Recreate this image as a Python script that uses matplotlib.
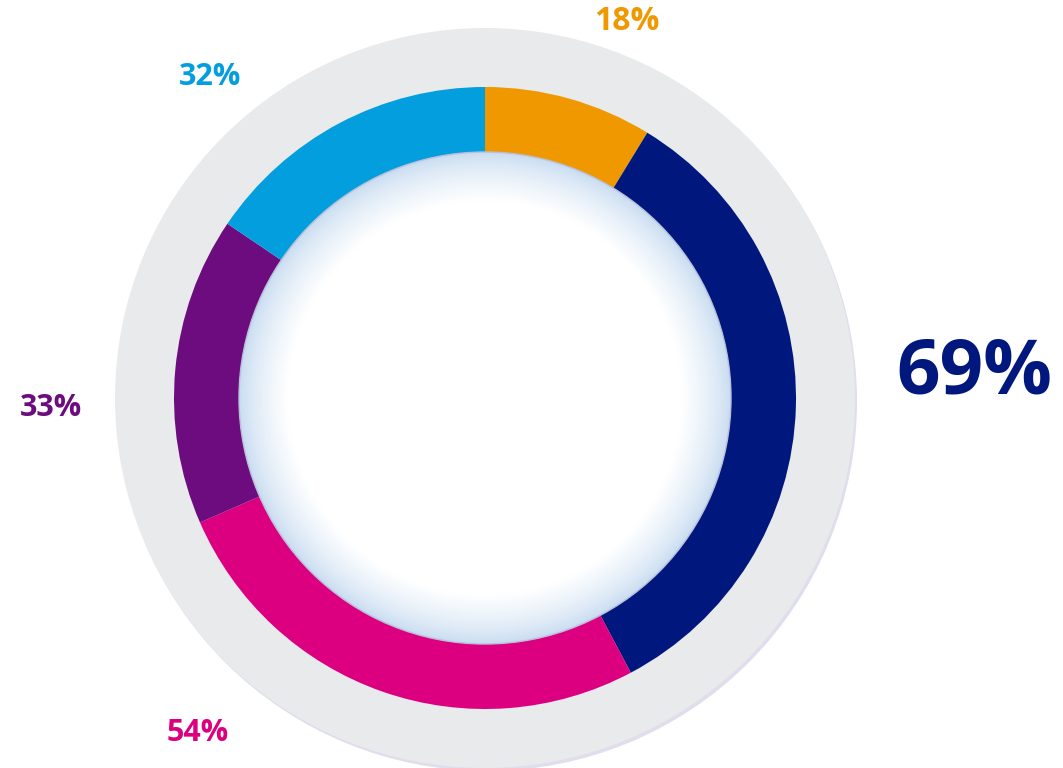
import matplotlib
matplotlib.use("Agg")
import matplotlib.pyplot as plt
from matplotlib.patches import Circle

# data (clockwise from 12 o'clock)
categories = ["A", "B", "C", "D", "E"]
values = [18, 69, 54, 33, 32]
labels = ["18%", "69%", "54%", "33%", "32%"]
colors = ["#F09800", "#00187E", "#DC0080", "#6C0C7E", "#029EDE"]

W, H = 1063, 768
fig = plt.figure(figsize=(W / 100, H / 100), dpi=100)
ax = fig.add_axes([0, 0, 1, 1])

cx, cy = 485, H - 398
R_outer, ring_w = 311, 65
R_inner = R_outer - ring_w

# soft shadow + grey backing disc
ax.add_patch(Circle((cx + 2, cy - 3), 370, facecolor="#E0DDEC", edgecolor="none", zorder=0))
ax.add_patch(Circle((cx, cy), 370, facecolor="#E9EAEC", edgecolor="none", zorder=1))

ax.pie(values, colors=colors, startangle=90, counterclock=False, radius=R_outer,
       center=(cx, cy), wedgeprops=dict(width=ring_w, edgecolor="none", linewidth=0))
for w in ax.patches[2:]:
    w.set_zorder(2)

# inner disc with light-blue glow near the rim
n = 36
for i in range(n):
    r = R_inner - i * 1.4
    t = i / (n - 1)
    c0 = (0.78, 0.86, 0.94)
    c = tuple(c0[k] + (1 - c0[k]) * t ** 0.7 for k in range(3))
    ax.add_patch(Circle((cx, cy), r, facecolor=c, edgecolor="none", zorder=3 + i * 0.01))
ax.add_patch(Circle((cx, cy), R_inner - n * 1.4, facecolor="white", edgecolor="none", zorder=4))
ax.add_patch(Circle((cx, cy), R_inner, facecolor="none", edgecolor="#B9BFD8", linewidth=1.0, zorder=4))

# labels
label_pos = [(627, 22, 23), (974, 374, 55), (198, 733, 22), (51, 408, 22), (210, 77, 22)]
for lab, col, (x, y, fs) in zip(labels, colors, label_pos):
    ax.text(x, H - y, lab, color=col, fontsize=fs, fontweight="bold", fontstyle="normal",
            family=["Open Sans", "DejaVu Sans"], ha="center", va="center", zorder=5)

ax.set_xlim(0, W)
ax.set_ylim(0, H)
ax.set_aspect("equal")
ax.axis("off")
fig.savefig("out.png", dpi=100)
